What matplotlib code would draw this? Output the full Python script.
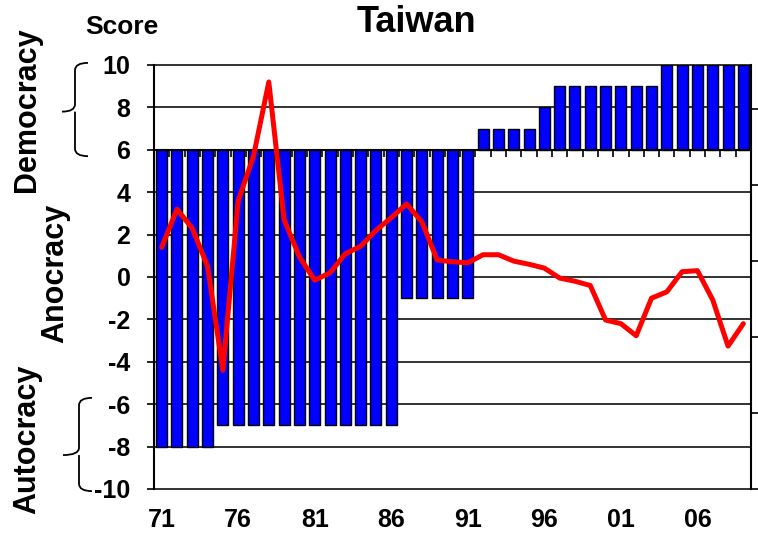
import matplotlib
matplotlib.use("Agg")
import matplotlib.pyplot as plt
from matplotlib.path import Path
from matplotlib.patches import PathPatch
import matplotlib.transforms as mtransforms
import numpy as np

plt.rcParams['font.family'] = ['Liberation Sans', 'DejaVu Sans']
plt.rcParams['font.weight'] = 'bold'

years = ['71', '72', '73', '74', '75', '76', '77', '78', '79', '80',
         '81', '82', '83', '84', '85', '86', '87', '88', '89', '90',
         '91', '92', '93', '94', '95', '96', '97', '98', '99', '00',
         '01', '02', '03', '04', '05', '06', '07', '08', '09']
polity = [-8, -8, -8, -8, -7, -7, -7, -7, -7, -7,
          -7, -7, -7, -7, -7, -7, -1, -1, -1, -1,
          -1, 7, 7, 7, 7, 8, 9, 9, 9, 9,
          9, 9, 9, 10, 10, 10, 10, 10, 10]
red_series = [1.4, 3.2, 2.3, 0.5, -4.4, 3.6, 5.7, 9.2, 2.7, 0.95,
              -0.15, 0.2, 1.1, 1.45, 2.2, 2.8, 3.45, 2.6, 0.8, 0.72,
              0.67, 1.05, 1.05, 0.75, 0.6, 0.42, -0.05, -0.2, -0.4, -2.03,
              -2.2, -2.77, -1.0, -0.7, 0.25, 0.3, -1.08, -3.26, -2.2]
yticks = [10, 8, 6, 4, 2, 0, -2, -4, -6, -8, -10]
xlabel_every = 5
baseline = 6

W, H = 758, 533
fig = plt.figure(figsize=(W / 100, H / 100), dpi=100)
ax = fig.add_axes([154 / W, 1 - 489 / H, (751 - 154) / W, (489 - 65) / H])

x = np.arange(len(years))
ax.set_xlim(-0.5, len(years) - 0.5)
ax.set_ylim(-10, 10)

# gridlines
for yv in yticks:
    if yv != baseline:
        ax.axhline(yv, color='#222222', lw=1.3, zorder=1, clip_on=False)

heights = [p - baseline for p in polity]
ax.bar(x, heights, bottom=baseline, width=0.72, color='#0000FF',
       edgecolor='black', linewidth=1.0, zorder=2)

ax.plot(x, red_series, color='#FF0000', lw=3.6, zorder=4,
        solid_joinstyle='round', solid_capstyle='round')

# y axis
ax.set_yticks(yticks)
ax.set_yticklabels([str(v) for v in yticks], fontsize=18, fontweight='bold')
ax.tick_params(axis='y', direction='out', length=5, width=1.2, pad=12,
               colors='black')

# category axis crossing at baseline
ax.spines['bottom'].set_position(('data', baseline))
ax.spines['bottom'].set_linewidth(1.5)
ax.set_xticks(np.arange(len(years) + 1) - 0.5)
ax.set_xticklabels([])
ax.tick_params(axis='x', direction='out', length=5, width=1.2)
ax.spines['top'].set_visible(False)
ax.spines['right'].set_visible(False)
ax.spines['left'].set_linewidth(1.5)

# bottom category labels
trans = mtransforms.blended_transform_factory(ax.transData, ax.transAxes)
for i, lab in enumerate(years):
    if i % xlabel_every == 0:
        ax.text(i, -31 / 424, lab, transform=trans, ha='center', va='center',
                fontsize=18, fontweight='bold')

# secondary axis ticks (no labels)
ax2 = ax.twinx()
ax2.set_ylim(0, (489 - 65) / 76)
ax2.set_yticks([0, 1, 2, 3, 4, 5])
ax2.set_yticklabels([])
ax2.tick_params(axis='y', direction='out', length=5, width=1.2)
for s in ['top', 'left', 'bottom']:
    ax2.spines[s].set_visible(False)
ax2.spines['right'].set_linewidth(1.5)

# titles and side labels
fig.text(416 / W, 1 - 22 / H, 'Taiwan', ha='center', va='center',
         fontsize=26, fontweight='bold')
fig.text(122 / W, 1 - 27 / H, 'Score', ha='center', va='center',
         fontsize=19, fontweight='bold')
fig.text(27 / W, 1 - 110 / H, 'Democracy', rotation=90, ha='center',
         va='center', fontsize=22, fontweight='bold')
fig.text(55 / W, 1 - 273 / H, 'Anocracy', rotation=90, ha='center',
         va='center', fontsize=22, fontweight='bold')
fig.text(27 / W, 1 - 439 / H, 'Autocracy', rotation=90, ha='center',
         va='center', fontsize=22, fontweight='bold')

# braces
btrans = mtransforms.blended_transform_factory(fig.transFigure, ax.transData)


def brace(xv, xh, xl, ytop, ymid, ybot, r=0.35):
    fx = lambda px: px / W
    verts = [(fx(xh), ytop), (fx(xv), ytop), (fx(xv), ytop - r),
             (fx(xv), ymid + r), (fx(xv), ymid), (fx(xl), ymid),
             (fx(xv), ymid), (fx(xv), ymid - r),
             (fx(xv), ybot + r), (fx(xv), ybot), (fx(xh), ybot)]
    codes = [Path.MOVETO, Path.CURVE3, Path.CURVE3,
             Path.LINETO, Path.CURVE3, Path.CURVE3,
             Path.MOVETO, Path.CURVE3,
             Path.LINETO, Path.CURVE3, Path.CURVE3]
    patch = PathPatch(Path(verts, codes), transform=btrans, fill=False,
                      lw=1.3, color='black', clip_on=False)
    fig.add_artist(patch)


brace(75, 88, 62, 10.1, 7.8, 5.7)
brace(79, 92, 63, -5.7, -8.4, -10.1)

fig.savefig('out.png', dpi=100)
